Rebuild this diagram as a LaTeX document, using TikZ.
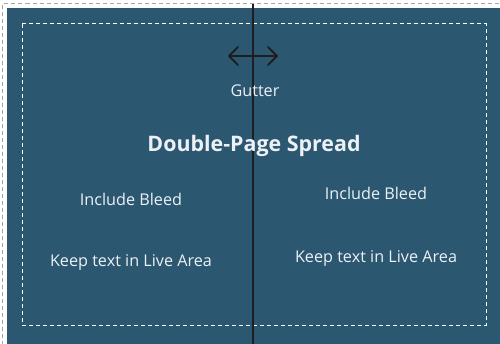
\documentclass[tikz,border=0pt]{standalone}
\usepackage{fontspec}
\setmainfont{Open Sans}
\definecolor{bluebg}{RGB}{44,87,112}
\definecolor{txt}{RGB}{236,241,245}
\definecolor{darkline}{RGB}{30,30,32}
\begin{document}
\begin{tikzpicture}[x=1pt,y=-1pt,
  lbl/.style={text=txt,font=\fontsize{16.2}{18}\selectfont,inner sep=0pt},
  title/.style={text=txt,font=\bfseries\fontsize{21.4}{24}\selectfont,inner sep=0pt}]
\useasboundingbox (0,0) rectangle (500,344);
\fill[white] (0,0) rectangle (500,344);
\draw[gray!70,dash pattern=on 4pt off 3pt,line width=1pt] (2.5,345) -- (2.5,4) -- (501,4);
\fill[bluebg] (7,8.5) rectangle (500,344);
\draw[white,dash pattern=on 4pt off 3pt,line width=1pt] (22,24) rectangle (486,325);
\draw[darkline,line width=2.2pt] (253,4) coordinate (gtop) -- (253,345) coordinate (gbot);
\coordinate (al) at (229,56);
\coordinate (ar) at (277,56);
\draw[darkline,line width=2pt,line cap=round,line join=round] (al) -- (ar);
\draw[darkline,line width=2pt,line cap=round,line join=round] ([shift={(9,-9)}]al) -- (al) -- ([shift={(9,9)}]al);
\draw[darkline,line width=2pt,line cap=round,line join=round] ([shift={(-9,-9)}]ar) -- (ar) -- ([shift={(-9,9)}]ar);
\node[lbl] (gutter) at (255,91) {Gutter};
\node[title] (spread) at (254,145.5) {Double-Page Spread};
\node[lbl] (bleedL) at (131,199) {Include Bleed};
\node[lbl] (bleedR) at (376,193) {Include Bleed};
\node[lbl] (liveL) at (131,262.5) {Keep text in Live Area};
\node[lbl] (liveR) at (376,258.5) {Keep text in Live Area};
\end{tikzpicture}
\end{document}
